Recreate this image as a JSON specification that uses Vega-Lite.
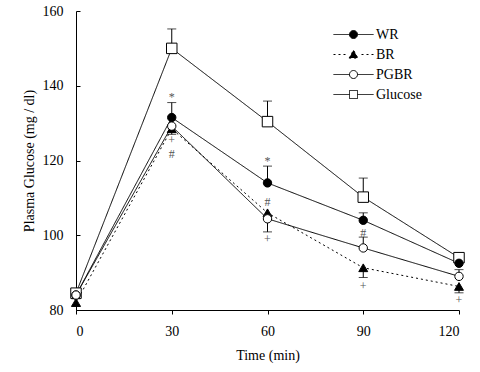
{
  "$schema": "https://vega.github.io/schema/vega-lite/v6.json",
  "autosize": "none",
  "width": 383,
  "height": 299,
  "padding": {"left": 76, "top": 11, "right": 21, "bottom": 62},
  "background": "white",
  "config": {
    "view": {"stroke": null},
    "font": "Liberation Serif",
    "axis": {"grid": false, "domainColor": "black", "tickColor": "black", "labelColor": "black", "titleColor": "black", "labelFont": "Liberation Serif", "titleFont": "Liberation Serif", "labelFontSize": 14, "titleFontSize": 14, "titleFontWeight": "normal", "domainWidth": 1, "tickWidth": 1, "labelOverlap": false}
  },
  "datasets": {
    "obs": [
      {"series": "WR", "t": 0, "y": 84, "err": 85},
      {"series": "WR", "t": 30, "y": 131.5, "err": 135.5},
      {"series": "WR", "t": 60, "y": 114, "err": 118.5},
      {"series": "WR", "t": 90, "y": 104, "err": 106},
      {"series": "WR", "t": 120, "y": 92.5, "err": 93.5},
      {"series": "BR", "t": 0, "y": 82, "err": 81},
      {"series": "BR", "t": 30, "y": 128.5, "err": 127},
      {"series": "BR", "t": 60, "y": 106, "err": 104.5},
      {"series": "BR", "t": 90, "y": 91.3, "err": 88.7},
      {"series": "BR", "t": 120, "y": 86.3, "err": 84.6},
      {"series": "PGBR", "t": 0, "y": 84, "err": 83},
      {"series": "PGBR", "t": 30, "y": 129.2, "err": 127.6},
      {"series": "PGBR", "t": 60, "y": 104.4, "err": 100.9},
      {"series": "PGBR", "t": 90, "y": 96.6, "err": 99.5},
      {"series": "PGBR", "t": 120, "y": 89, "err": 90.8},
      {"series": "Glucose", "t": 0, "y": 84.5, "err": 85.5},
      {"series": "Glucose", "t": 30, "y": 150, "err": 155.2},
      {"series": "Glucose", "t": 60, "y": 130.4, "err": 135.9},
      {"series": "Glucose", "t": 90, "y": 110.2, "err": 115.3},
      {"series": "Glucose", "t": 120, "y": 94, "err": 95}
    ],
    "notes": [
      {"t": 30, "y": 137, "label": "*"},
      {"t": 30, "y": 125.4, "label": "+"},
      {"t": 30, "y": 121.8, "label": "#"},
      {"t": 60, "y": 119.8, "label": "*"},
      {"t": 60, "y": 108.9, "label": "#"},
      {"t": 60, "y": 99, "label": "+"},
      {"t": 90, "y": 100.6, "label": "#"},
      {"t": 90, "y": 86.4, "label": "+"},
      {"t": 120, "y": 82.7, "label": "+"}
    ]
  },
  "layer": [
    {
      "data": {"name": "obs"},
      "mark": {"type": "point", "filled": true, "opacity": 1, "size": 1, "strokeWidth": 1},
      "encoding": {
        "x": {"field": "t", "type": "quantitative", "scale": {"domain": [0, 120], "nice": false}, "axis": {"values": [0, 30, 60, 90, 120], "title": "Time (min)", "tickSize": 4, "labelPadding": 10, "titlePadding": 10}},
        "y": {"field": "y", "type": "quantitative", "scale": {"domain": [80, 160], "nice": false, "zero": false}, "axis": {"values": [80, 90, 100, 110, 120, 130, 140, 150, 160], "title": "Plasma Glucose (mg / dl)", "tickSize": -4, "labelPadding": 17, "titlePadding": 6}},
        "shape": {
          "field": "series", "type": "nominal",
          "scale": {"domain": ["WR", "BR", "PGBR", "Glucose"], "range": [
            "M-2,0L-0.4,0M0.4,0L2,0M-0.4,0A0.4,0.4,0,1,1,0.4,0A0.4,0.4,0,1,1,-0.4,0Z",
            "M-2,0L-1.8,0M-1.5,0L-1.3,0M-1,0L-0.8,0M0.8,0L1,0M1.3,0L1.5,0M1.8,0L2,0M-0.44,0.36L0,-0.44L0.44,0.36Z",
            "M-2,0L-0.4,0M0.4,0L2,0M-0.4,0A0.4,0.4,0,1,1,0.4,0A0.4,0.4,0,1,1,-0.4,0Z",
            "M-2,0L-0.4,0M0.4,0L2,0M-0.4,-0.4L0.4,-0.4L0.4,0.4L-0.4,0.4Z"
          ]},
          "legend": {
            "title": null, "orient": "none", "legendX": 267, "legendY": 13,
            "symbolSize": 400, "symbolOpacity": 1, "symbolStrokeColor": "black", "symbolStrokeWidth": 1,
            "labelOffset": 12, "labelFont": "Liberation Serif", "labelFontSize": 14, "labelColor": "black", "rowPadding": 2, "padding": 0
          }
        },
        "fill": {
          "field": "series", "type": "nominal",
          "scale": {"domain": ["WR", "BR", "PGBR", "Glucose"], "range": ["black", "black", "white", "white"]},
          "legend": {
            "title": null, "orient": "none", "legendX": 267, "legendY": 13,
            "symbolSize": 400, "symbolOpacity": 1, "symbolStrokeColor": "black", "symbolStrokeWidth": 1,
            "labelOffset": 12, "labelFont": "Liberation Serif", "labelFontSize": 14, "labelColor": "black", "rowPadding": 2, "padding": 0
          }
        },
        "stroke": {
          "field": "series", "type": "nominal",
          "scale": {"domain": ["WR", "BR", "PGBR", "Glucose"], "range": ["black", "black", "black", "black"]},
          "legend": {
            "title": null, "orient": "none", "legendX": 267, "legendY": 13,
            "symbolSize": 400, "symbolOpacity": 1, "symbolStrokeColor": "black", "symbolStrokeWidth": 1,
            "labelOffset": 12, "labelFont": "Liberation Serif", "labelFontSize": 14, "labelColor": "black", "rowPadding": 2, "padding": 0
          }
        }
      }
    },
    {
      "data": {"name": "obs"},
      "mark": {"type": "line", "color": "black", "strokeWidth": 1},
      "encoding": {
        "x": {"field": "t", "type": "quantitative"},
        "y": {"field": "y", "type": "quantitative"},
        "detail": {"field": "series"},
        "strokeDash": {
          "field": "series", "type": "nominal",
          "scale": {"domain": ["WR", "BR", "PGBR", "Glucose"], "range": [[1, 0], [2, 3], [1, 0], [1, 0]]},
          "legend": null
        }
      }
    },
    {
      "data": {"name": "obs"},
      "mark": {"type": "rule", "color": "black", "strokeWidth": 1},
      "encoding": {
        "x": {"field": "t", "type": "quantitative"},
        "y": {"field": "y", "type": "quantitative"},
        "y2": {"field": "err"}
      }
    },
    {
      "data": {"name": "obs"},
      "mark": {"type": "tick", "orient": "horizontal", "color": "black", "size": 9, "thickness": 1},
      "encoding": {
        "x": {"field": "t", "type": "quantitative"},
        "y": {"field": "err", "type": "quantitative"}
      }
    },
    {
      "data": {"name": "obs"},
      "transform": [{"filter": "datum.series === 'Glucose'"}],
      "mark": {"type": "point", "shape": "square", "filled": true, "fill": "white", "stroke": "black", "strokeWidth": 1, "size": 110, "opacity": 1},
      "encoding": {
        "x": {"field": "t", "type": "quantitative"},
        "y": {"field": "y", "type": "quantitative"}
      }
    },
    {
      "data": {"name": "obs"},
      "transform": [{"filter": "datum.series === 'WR'"}],
      "mark": {"type": "point", "shape": "circle", "filled": true, "fill": "black", "stroke": "black", "strokeWidth": 1, "size": 70, "opacity": 1},
      "encoding": {
        "x": {"field": "t", "type": "quantitative"},
        "y": {"field": "y", "type": "quantitative"}
      }
    },
    {
      "data": {"name": "obs"},
      "transform": [{"filter": "datum.series === 'BR'"}],
      "mark": {"type": "point", "shape": "triangle-up", "filled": true, "fill": "black", "stroke": "black", "strokeWidth": 1, "size": 80, "opacity": 1},
      "encoding": {
        "x": {"field": "t", "type": "quantitative"},
        "y": {"field": "y", "type": "quantitative"}
      }
    },
    {
      "data": {"name": "obs"},
      "transform": [{"filter": "datum.series === 'PGBR'"}],
      "mark": {"type": "point", "shape": "circle", "filled": true, "fill": "white", "stroke": "black", "strokeWidth": 1, "size": 70, "opacity": 1},
      "encoding": {
        "x": {"field": "t", "type": "quantitative"},
        "y": {"field": "y", "type": "quantitative"}
      }
    },
    {
      "data": {"name": "notes"},
      "mark": {"type": "text", "font": "Liberation Serif", "fontSize": 12, "fill": "#555555", "baseline": "middle", "align": "center"},
      "encoding": {
        "x": {"field": "t", "type": "quantitative"},
        "y": {"field": "y", "type": "quantitative"},
        "text": {"field": "label"}
      }
    }
  ]
}
